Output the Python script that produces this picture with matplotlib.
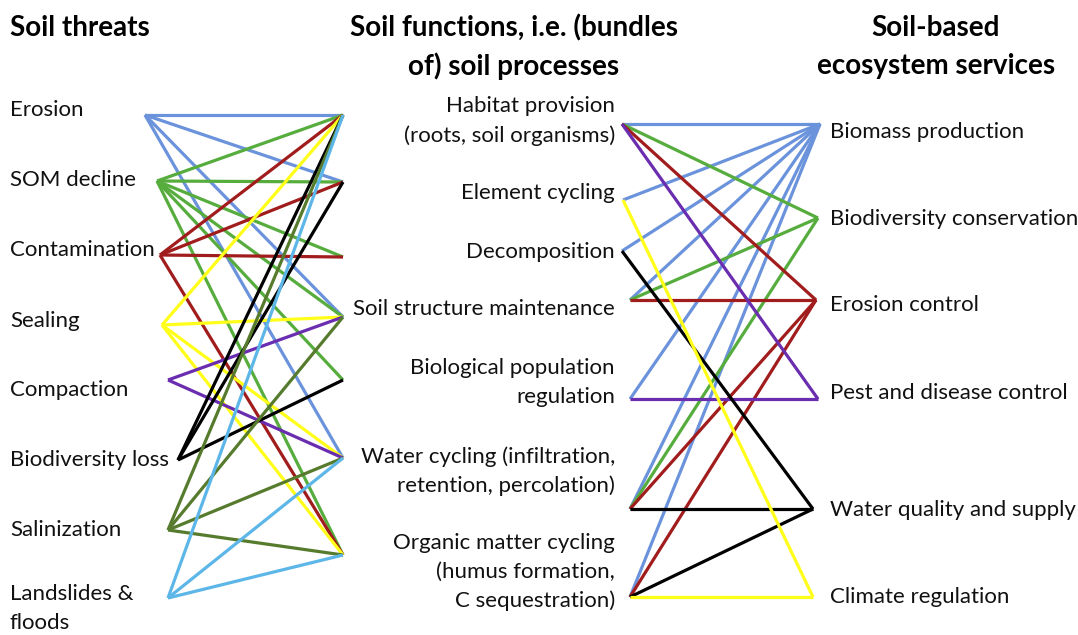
import matplotlib
matplotlib.use("Agg")
import matplotlib.pyplot as plt

# ---------------- data ----------------
threats = ["Erosion", "SOM decline", "Contamination", "Sealing", "Compaction",
           "Biodiversity loss", "Salinization", "Landslides & floods"]
functions = ["Habitat provision", "Element cycling", "Decomposition",
             "Soil structure maintenance", "Biological population regulation",
             "Water cycling", "Organic matter cycling"]
services = ["Biomass production", "Biodiversity conservation", "Erosion control",
            "Pest and disease control", "Water quality and supply", "Climate regulation"]

threat_links = {
    "Erosion": ["Habitat provision", "Element cycling", "Soil structure maintenance", "Water cycling"],
    "SOM decline": ["Habitat provision", "Element cycling", "Decomposition",
                    "Soil structure maintenance", "Biological population regulation",
                    "Organic matter cycling"],
    "Contamination": ["Habitat provision", "Element cycling", "Decomposition", "Organic matter cycling"],
    "Sealing": ["Habitat provision", "Soil structure maintenance", "Water cycling", "Organic matter cycling"],
    "Compaction": ["Soil structure maintenance", "Water cycling"],
    "Biodiversity loss": ["Habitat provision", "Element cycling", "Biological population regulation"],
    "Salinization": ["Habitat provision", "Soil structure maintenance", "Water cycling", "Organic matter cycling"],
    "Landslides & floods": ["Habitat provision", "Water cycling", "Organic matter cycling"],
}
service_links = {
    "Biomass production": functions,
    "Biodiversity conservation": ["Habitat provision", "Soil structure maintenance", "Water cycling"],
    "Erosion control": ["Habitat provision", "Soil structure maintenance", "Water cycling", "Organic matter cycling"],
    "Pest and disease control": ["Habitat provision", "Biological population regulation"],
    "Water quality and supply": ["Decomposition", "Water cycling", "Organic matter cycling"],
    "Climate regulation": ["Element cycling", "Organic matter cycling"],
}

# ---------------- styles / layout ----------------
threat_colors = {
    "Erosion": "#6b93dc", "SOM decline": "#56ad3e", "Contamination": "#a11c1c",
    "Sealing": "#ffff1a", "Compaction": "#6a2db0", "Biodiversity loss": "#000000",
    "Salinization": "#567b2c", "Landslides & floods": "#5cb6e8",
}
service_colors = {
    "Biomass production": "#6b93dc", "Biodiversity conservation": "#56ad3e",
    "Erosion control": "#a11c1c", "Pest and disease control": "#6a2db0",
    "Water quality and supply": "#000000", "Climate regulation": "#ffff1a",
}

threat_nodes = {"Erosion": (145, 115), "SOM decline": (157, 181), "Contamination": (160, 255),
                "Sealing": (162, 325), "Compaction": (168, 380), "Biodiversity loss": (178, 460),
                "Salinization": (168, 530), "Landslides & floods": (168, 598)}
func_left_nodes = {"Habitat provision": (343, 115), "Element cycling": (343, 182),
                   "Decomposition": (343, 257), "Soil structure maintenance": (343, 317),
                   "Biological population regulation": (343, 380), "Water cycling": (343, 458),
                   "Organic matter cycling": (343, 555)}
func_right_nodes = {"Habitat provision": (622, 124), "Element cycling": (623, 200),
                    "Decomposition": (622, 251), "Soil structure maintenance": (630, 300),
                    "Biological population regulation": (630, 399), "Water cycling": (630, 509),
                    "Organic matter cycling": (630, 597)}
service_nodes = {"Biomass production": (820, 124), "Biodiversity conservation": (818, 218),
                 "Erosion control": (816, 300), "Pest and disease control": (818, 399),
                 "Water quality and supply": (813, 509), "Climate regulation": (813, 597)}

threat_label_lines = {"Erosion": [("Erosion", 110)], "SOM decline": [("SOM decline", 180)],
                      "Contamination": [("Contamination", 250)], "Sealing": [("Sealing", 321)],
                      "Compaction": [("Compaction", 390)],
                      "Biodiversity loss": [("Biodiversity loss", 460)],
                      "Salinization": [("Salinization", 530)],
                      "Landslides & floods": [("Landslides &", 594), ("floods", 623)]}
func_label_lines = {
    "Habitat provision": [("Habitat provision", 106), ("(roots, soil organisms)", 136)],
    "Element cycling": [("Element cycling", 193)],
    "Decomposition": [("Decomposition", 252)],
    "Soil structure maintenance": [("Soil structure maintenance", 309)],
    "Biological population regulation": [("Biological population", 368), ("regulation", 397)],
    "Water cycling": [("Water cycling (infiltration,", 457), ("retention, percolation)", 486)],
    "Organic matter cycling": [("Organic matter cycling", 543), ("(humus formation,", 572),
                               ("C sequestration)", 601)],
}
service_label_y = {"Biomass production": 132, "Biodiversity conservation": 219,
                   "Erosion control": 305, "Pest and disease control": 393,
                   "Water quality and supply": 510, "Climate regulation": 597}

FONT = ["Lato", "DejaVu Sans"]
BODY = 16
TITLE = 20
LW = 2.3

fig = plt.figure(figsize=(10.78, 6.35), dpi=100)
ax = fig.add_axes([0, 0, 1, 1])
ax.set_xlim(0, 1078)
ax.set_ylim(635, 0)
ax.axis("off")

# left links
for t in threats:
    x0, y0 = threat_nodes[t]
    for f in threat_links[t]:
        x1, y1 = func_left_nodes[f]
        ax.plot([x0, x1], [y0, y1], color=threat_colors[t], lw=LW, solid_capstyle="butt")

# right links
for s in services:
    x1, y1 = service_nodes[s]
    for f in service_links[s]:
        x0, y0 = func_right_nodes[f]
        ax.plot([x0, x1], [y0, y1], color=service_colors[s], lw=LW, solid_capstyle="butt")

# titles
ax.text(10, 28, "Soil threats", ha="left", va="center", fontsize=TITLE,
        fontweight="bold", family=FONT)
ax.text(514, 28, "Soil functions, i.e. (bundles", ha="center", va="center",
        fontsize=TITLE, fontweight="bold", family=FONT)
ax.text(514, 66, "of) soil processes", ha="center", va="center",
        fontsize=TITLE, fontweight="bold", family=FONT)
ax.text(936, 28, "Soil-based", ha="center", va="center", fontsize=TITLE,
        fontweight="bold", family=FONT)
ax.text(936, 66, "ecosystem services", ha="center", va="center", fontsize=TITLE,
        fontweight="bold", family=FONT)

for t in threats:
    for txt, y in threat_label_lines[t]:
        ax.text(10, y, txt, ha="left", va="center", fontsize=BODY, family=FONT, color="#111111")
for f in functions:
    for txt, y in func_label_lines[f]:
        ax.text(615, y, txt, ha="right", va="center", fontsize=BODY, family=FONT, color="#111111")
for s in services:
    ax.text(830, service_label_y[s], s, ha="left", va="center", fontsize=BODY,
            family=FONT, color="#111111")

fig.savefig("out.png", dpi=100, facecolor="white")
